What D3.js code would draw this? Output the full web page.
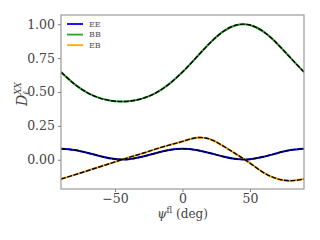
<!DOCTYPE html>
<html>
<head>
<meta charset="utf-8">
<script src="https://cdn.jsdelivr.net/npm/d3@7"></script>
<style>
  body { margin: 0; background: #fff; }
  text { font-family: "DejaVu Serif", "Liberation Serif", serif; }
</style>
</head>
<body>
<div id="chart"></div>
<script>
// Define the dimensions of the chart
const width = 320,
      height = 240;
const margin = { top: 15, right: 16, bottom: 51, left: 61 };

// Data (psi in degrees)
const psi = [-90, -80, -70, -60, -50, -40, -30, -20, -10, 0, 10, 20, 30, 40, 50, 60, 70, 80, 90];
const eeValues = [0.081, 0.072, 0.050, 0.024, 0.005, 0.004, 0.022, 0.048, 0.071, 0.081, 0.072, 0.050, 0.024, 0.005, 0.004, 0.022, 0.048, 0.071, 0.081];
const bbValues = [0.647, 0.558, 0.492, 0.451, 0.432, 0.432, 0.451, 0.492, 0.558, 0.647, 0.752, 0.858, 0.945, 0.994, 0.994, 0.945, 0.858, 0.752, 0.647];
const ebValues = [-0.142, -0.112, -0.080, -0.048, -0.016, 0.016, 0.046, 0.078, 0.108, 0.135, 0.162, 0.153, 0.102, 0.040, -0.025, -0.095, -0.140, -0.155, -0.142];
const seriesNames = ["EE", "BB", "EB"];
const seriesColors = ["#0000ff", "#2ca02c", "#ffa500"];
const xTicks = [-50, 0, 50];
const yTicks = [0, 0.25, 0.5, 0.75, 1.0];

const series = [eeValues, bbValues, ebValues];

// Create the svg
const svg = d3.select("#chart").append("svg")
    .attr("width", width)
    .attr("height", height);

// Scales
const x = d3.scaleLinear()
    .domain([-90, 90])
    .range([margin.left, width - margin.right]);

const y = d3.scaleLinear()
    .domain([-0.216, 1.068])
    .range([height - margin.bottom, margin.top]);

// Clip so the curves stay inside the axes box
svg.append("clipPath").attr("id", "clip")
  .append("rect")
    .attr("x", margin.left)
    .attr("y", margin.top)
    .attr("width", width - margin.left - margin.right)
    .attr("height", height - margin.top - margin.bottom);

const line = d3.line()
    .x((d, i) => x(psi[i]))
    .y(d => y(d))
    .curve(d3.curveNatural);

const plot = svg.append("g").attr("clip-path", "url(#clip)");

// Coloured solid lines first
series.forEach((vals, k) => {
    plot.append("path")
        .datum(vals)
        .attr("d", line)
        .style("fill", "none")
        .style("stroke", seriesColors[k])
        .style("stroke-width", 2);
});

// Black dashed lines on top
series.forEach(vals => {
    plot.append("path")
        .datum(vals)
        .attr("d", line)
        .style("fill", "none")
        .style("stroke", "#000")
        .style("stroke-width", 1.4)
        .style("stroke-dasharray", "5,1.5");
});

// Axes
const xAxis = svg.append("g")
    .attr("transform", `translate(0,${height - margin.bottom})`)
    .call(d3.axisBottom(x).tickValues(xTicks).tickSize(3).tickPadding(2)
        .tickFormat(d => d < 0 ? "\u2212" + Math.abs(d) : d));

const yAxis = svg.append("g")
    .attr("transform", `translate(${margin.left},0)`)
    .call(d3.axisLeft(y).tickValues(yTicks).tickSize(3).tickPadding(3)
        .tickFormat(d3.format(".2f")));

[xAxis, yAxis].forEach(ax => {
    ax.select(".domain").remove();
    ax.selectAll(".tick line").style("stroke", "#555").style("stroke-width", 0.8);
    ax.selectAll(".tick text")
        .style("font-size", "12.5px")
        .style("fill", "#444")
        .style("font-family", "'DejaVu Serif', serif");
});

// Frame around the axes
svg.append("rect")
    .attr("x", margin.left)
    .attr("y", margin.top)
    .attr("width", width - margin.left - margin.right)
    .attr("height", height - margin.top - margin.bottom)
    .style("fill", "none")
    .style("stroke", "#999")
    .style("stroke-width", 1.2);

// Axis labels
const xLabel = svg.append("text")
    .attr("x", x(0))
    .attr("y", 218)
    .attr("text-anchor", "middle")
    .style("font-size", "12px")
    .style("fill", "#444");
xLabel.append("tspan").style("font-style", "italic").text("\u03c8");
xLabel.append("tspan").attr("dy", -5).style("font-size", "8.5px").text("fl");
xLabel.append("tspan").attr("dy", 5).text(" (deg)");

const yLabel = svg.append("text")
    .attr("transform", `translate(27,${(margin.top + height - margin.bottom) / 2 - 8}) rotate(-90)`)
    .attr("text-anchor", "middle")
    .style("font-size", "14px")
    .style("fill", "#444");
yLabel.append("tspan").style("font-style", "italic").text("D");
yLabel.append("tspan").attr("dy", -6).style("font-size", "9px").style("font-style", "italic").text("XX");
yLabel.append("tspan").attr("dx", -13).attr("dy", 8).style("font-size", "9px").style("font-style", "italic").text("\u2113");

// Legend
const legend = svg.append("g")
    .attr("class", "legend")
    .attr("transform", `translate(67,24)`);

const legendSpacing = 10.6;

seriesNames.forEach((name, i) => {
    legend.append("line")
        .attr("x1", 0)
        .attr("x2", 16)
        .attr("y1", i * legendSpacing)
        .attr("y2", i * legendSpacing)
        .style("stroke", seriesColors[i])
        .style("stroke-width", 1.8);
    legend.append("text")
        .attr("x", 22)
        .attr("y", i * legendSpacing)
        .attr("dy", "0.35em")
        .style("font-size", "8px")
        .style("fill", "#555")
        .text(name);
});
</script>
</body>
</html>
